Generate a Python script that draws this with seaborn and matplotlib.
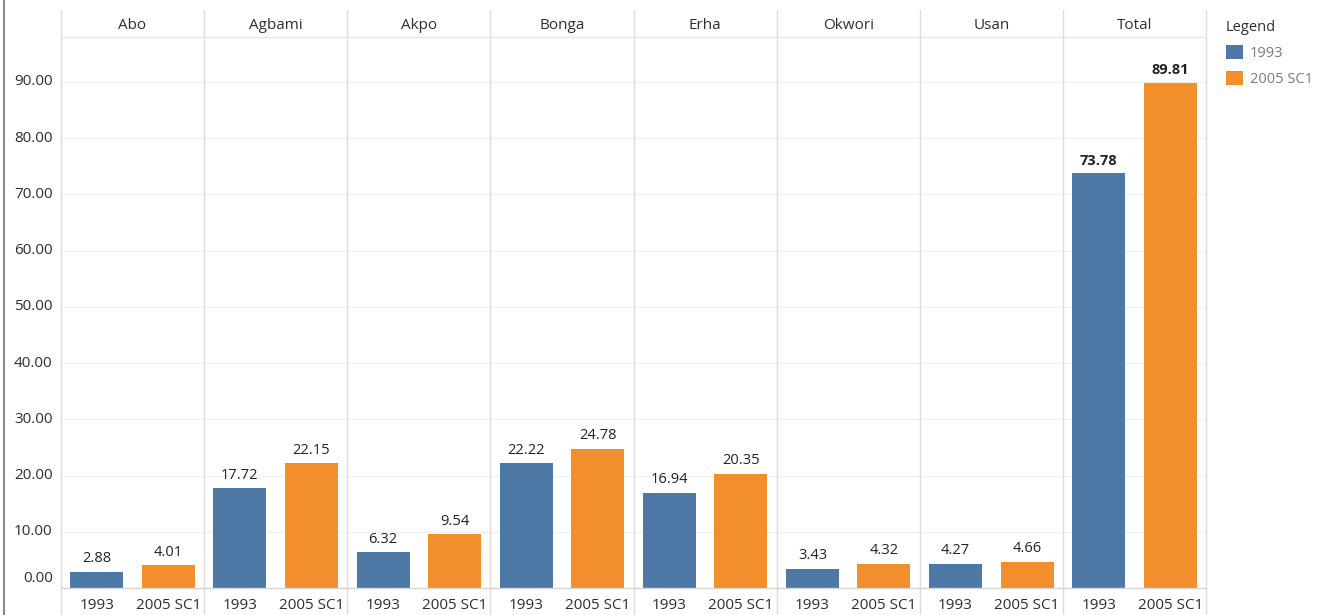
import matplotlib
matplotlib.use("Agg")
import matplotlib.pyplot as plt
from matplotlib.lines import Line2D
from matplotlib.patches import Patch
import seaborn as sns
import pandas as pd

# Fields and values per scenario
fields = ["Abo", "Agbami", "Akpo", "Bonga", "Erha", "Okwori", "Usan", "Total"]
scenarios = ["1993", "2005 SC1"]
values_1993 = [2.88, 17.72, 6.32, 22.22, 16.94, 3.43, 4.27, 73.78]
values_2005 = [4.01, 22.15, 9.54, 24.78, 20.35, 4.32, 4.66, 89.81]
y_ticks = [0, 10, 20, 30, 40, 50, 60, 70, 80, 90]

colors = {"1993": "#4e79a7", "2005 SC1": "#f28e2b"}

rows = []
for f, a, b in zip(fields, values_1993, values_2005):
    rows.append({"Field": f, "Scenario": "1993", "Value": a})
    rows.append({"Field": f, "Scenario": "2005 SC1", "Value": b})
df = pd.DataFrame(rows)

sns.set_theme(style="white")
plt.rcParams["font.family"] = ["Open Sans", "DejaVu Sans"]

W, H = 1320, 615
fig = plt.figure(figsize=(W / 100, H / 100), dpi=100)

def fx(px):
    return px / W

def fy(py):
    return 1 - py / H

left_px, right_px = 61, 1206
top_px, bottom_px = 37, 588
panel_w = (right_px - left_px) / len(fields)

grid_c = "#f1f1f1"
sep_c = "#dcdcdc"
text_c = "#2e2e2e"

for i, f in enumerate(fields):
    ax = fig.add_axes([fx(left_px + i * panel_w), fy(bottom_px),
                       fx(panel_w), (bottom_px - top_px) / H])
    sub = df[df["Field"] == f]
    sns.barplot(data=sub, x="Scenario", y="Value", hue="Scenario",
                order=scenarios, hue_order=scenarios, palette=colors,
                width=0.74, dodge=False, legend=False, ax=ax,
                saturation=1, errorbar=None, linewidth=0, edgecolor="none")
    ax.set_ylim(0, 98)
    ax.set_xlim(-0.5, 1.5)
    ax.set_yticks(y_ticks)
    ax.set_yticklabels([])
    ax.yaxis.grid(True, color=grid_c, linewidth=1)
    ax.set_axisbelow(True)
    for s in ax.spines.values():
        s.set_visible(False)
    ax.set_xlabel("")
    ax.set_ylabel("")
    ax.tick_params(axis="both", length=0)
    ax.tick_params(axis="x", pad=7, labelsize=11, labelcolor=text_c)
    bold = f == "Total"
    for c in ax.containers:
        ax.bar_label(c, fmt="%.2f", padding=4, fontsize=10.5, color="#222222",
                     fontweight="bold" if bold else "normal")
    # field header above the plot area
    ax.text(0.5, 1 + 12 / (bottom_px - top_px), f, transform=ax.transAxes,
            ha="center", va="center", fontsize=11, color=text_c)
    if i == 0:
        for t in y_ticks:
            dy = 10 if t == 0 else 0
            ax.annotate(f"{t:.2f}", xy=(0, t), xycoords=("axes fraction", "data"),
                        xytext=(-6, dy * 0.72), textcoords="offset points",
                        ha="right", va="center", fontsize=11, color=text_c)

# panel separators, header rule and baseline
for i in range(len(fields) + 1):
    x = fx(left_px + i * panel_w)
    fig.add_artist(Line2D([x, x], [fy(10), 0], transform=fig.transFigure,
                          color=sep_c, linewidth=1))
fig.add_artist(Line2D([fx(left_px), fx(right_px)], [fy(top_px), fy(top_px)],
                      transform=fig.transFigure, color="#e6e6e6", linewidth=1))
fig.add_artist(Line2D([fx(left_px), fx(right_px)], [fy(bottom_px), fy(bottom_px)],
                      transform=fig.transFigure, color="#d6d6d6", linewidth=1))
# outer left border
fig.add_artist(Line2D([fx(4), fx(4)], [0, 1], transform=fig.transFigure,
                      color="#8a8a8a", linewidth=1.5))

handles = [Patch(facecolor=colors[s], edgecolor="none") for s in scenarios]
leg = fig.legend(handles, scenarios, loc="upper left",
                 bbox_to_anchor=(fx(1220), fy(14)), title="Legend",
                 frameon=False, alignment="left", fontsize=10.5,
                 title_fontsize=10.5, handlelength=1.15, handleheight=1.1,
                 handletextpad=0.5, labelspacing=0.7, borderaxespad=0,
                 labelcolor="#7a7a7a")
leg.get_title().set_color(text_c)

fig.savefig("out.png", dpi=100)
